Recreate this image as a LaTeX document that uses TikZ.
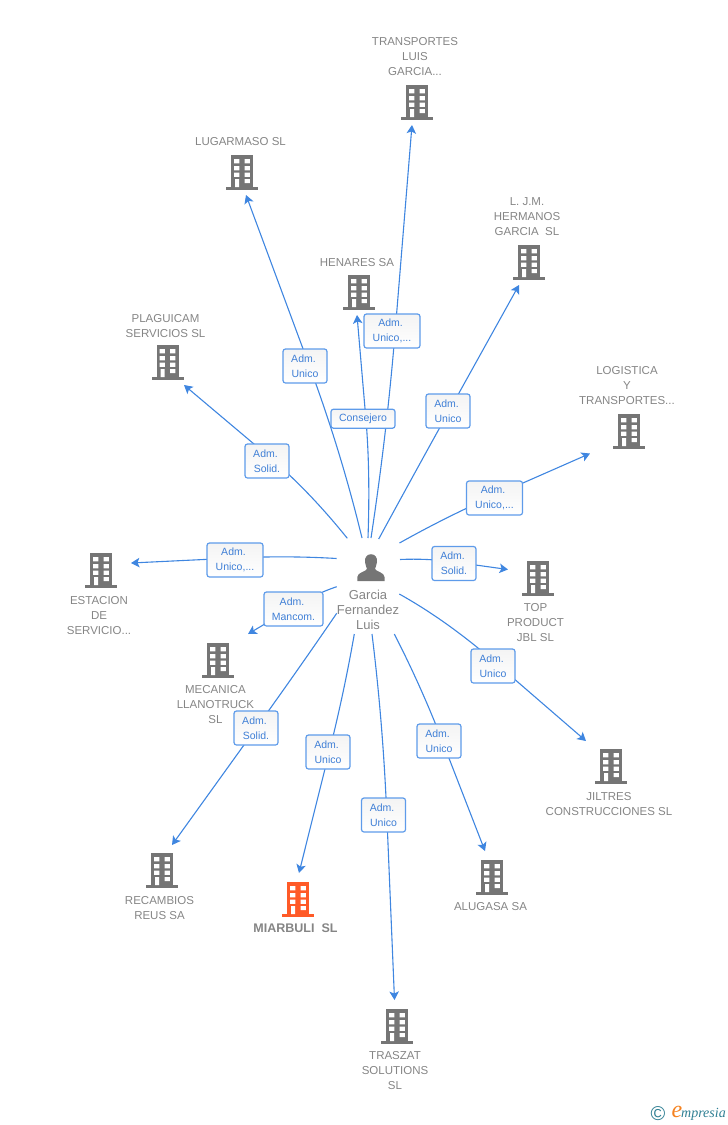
\documentclass[tikz,border=0pt]{standalone}
\usepackage{fontspec}
\setmainfont{Liberation Sans}
\newfontfamily\logofont{Liberation Serif}
\usetikzlibrary{arrows.meta,backgrounds,calc}
\definecolor{linkblue}{HTML}{3F86E0}
\definecolor{boxedge}{HTML}{5E9BEA}
\definecolor{boxtext}{HTML}{3F7FD6}
\definecolor{icongray}{HTML}{757575}
\definecolor{labelgray}{HTML}{858585}
\definecolor{hiorange}{HTML}{FF5A27}
\definecolor{logoteal}{HTML}{2F7F93}
\definecolor{logoorange}{HTML}{F58220}
\tikzset{
  conn/.style={linkblue,line width=1.1pt,-{Stealth[length=8.5pt,width=9.5pt,inset=2pt]}},
  rolebox/.style={draw=boxedge,line width=1.2pt,rounded corners=2.5pt,top color=gray!9,bottom color=white,
    text=boxtext,align=center,inner sep=0pt,font=\fontsize{10.5}{15}\selectfont},
  entlabel/.style={text=labelgray,align=center,inner sep=0pt,font=\fontsize{11.5}{15}\selectfont},
  buildingicon/.pic={
    \fill[pic actions] (-11,-17) rectangle (11,15.5);
    \fill[pic actions] (-16,15) rectangle (16,17.6);
    \fill[white] (-7.8,-12.8) rectangle (-2.6,-8.6) (2.7,-12.8) rectangle (7.8,-8.6)
      (-7.8,-6) rectangle (-2.6,-1.7) (2.7,-6) rectangle (7.8,-1.7)
      (-7.8,0.6) rectangle (-2.6,4.8) (2.7,0.6) rectangle (7.8,4.8)
      (-7,7) rectangle (-3,15) (2.7,7) rectangle (7.8,11);
  }
}
\newcommand{\linkpath}[4]{%
  \coordinate (s#1) at (#2);
  \coordinate (m#1) at (#3);
  \coordinate (e#1) at (#4);
  \coordinate (c#1) at ($(m#1)!-0.5!(e#1)$);
  \begin{scope}[on background layer]
    \draw[conn] (s#1) .. controls ($(s#1)!0.667!(c#1)$) and ($(m#1)!0.667!(c#1)$) .. (m#1) -- (e#1);
  \end{scope}%
}
\begin{document}
\begin{tikzpicture}[x=1pt,y=-1pt]
\useasboundingbox (0,0) rectangle (728,1125);

% person
\coordinate (person) at (371,567);
\fill[icongray] (371,554.2) .. controls (375.5,554.2) and (377.5,558) .. (377,562)
  .. controls (376.7,565) and (375.5,567) .. (375,569)
  .. controls (376,571.5) and (384.5,572.5) .. (384.5,577) -- (384.5,581.2) -- (357.3,581.2) -- (357.3,577)
  .. controls (357.3,572.5) and (366,571.5) .. (367,569)
  .. controls (366.5,567) and (365.3,565) .. (365,562)
  .. controls (364.5,558) and (366.5,554.2) .. (371,554.2) -- cycle;
\node[text=labelgray,align=center,inner sep=0pt,font=\fontsize{13}{15}\selectfont] (personlabel) at (368,610) {Garcia\\Fernandez\\Luis};

% buildings
\foreach \n/\px/\py in {b1/417/102,b2/242/172,b3/359/292,b4/529/262,b5/167.5/362,b6/629/431,b7/538/578,b8/611/766,b9/492/877,b10/397/1026,b12/162/870,b13/218/660,b14/101/570}{
  \coordinate (\n) at (\px,\py);
  \pic[fill=icongray] at (\n) {buildingicon};
}
\coordinate (b11) at (298,899);
\pic[fill=hiorange] at (b11) {buildingicon};

% entity labels
\node[entlabel] (t1) at (415,57) {TRANSPORTES\\LUIS\\GARCIA...};
\node[entlabel] (t2) at (240.5,142) {LUGARMASO SL};
\node[entlabel] (t3) at (357,263) {HENARES SA};
\node[entlabel] (t4) at (527,217) {L. J.M.\\HERMANOS\\GARCIA\ \ SL};
\node[entlabel] (t5) at (165.5,326) {PLAGUICAM\\SERVICIOS SL};
\node[entlabel] (t6) at (627,386) {LOGISTICA\\Y\\TRANSPORTES...};
\node[entlabel] (t7) at (535.5,623) {TOP\\PRODUCT\\JBL SL};
\node[entlabel] (t8) at (609,804) {JILTRES\\CONSTRUCCIONES SL};
\node[entlabel] (t9) at (490.5,907) {ALUGASA SA};
\node[entlabel] (t10) at (395,1071) {TRASZAT\\SOLUTIONS\\SL};
\node[entlabel,font=\fontsize{12.5}{15}\selectfont\bfseries] (t11) at (295.5,928.5) {MIARBULI\ \ SL};
\node[entlabel] (t12) at (159.5,908.5) {RECAMBIOS\\REUS SA};
\node[entlabel] (t13) at (215.5,705) {MECANICA\\LLANOTRUCK\\SL};
\node[entlabel] (t14) at (99,616) {ESTACION\\DE\\SERVICIO...};

% role boxes
\node[rolebox,minimum width=56pt,minimum height=34pt] (r1) at (392,331) {Adm.\kern3pt\\Unico,...};
\node[rolebox,minimum width=44pt,minimum height=34pt] (r2) at (305,366) {Adm.\kern3pt\\Unico};
\node[rolebox,minimum width=64pt,minimum height=19pt] (r3) at (363,418.7) {Consejero};
\node[rolebox,minimum width=44pt,minimum height=34pt] (r4) at (448,411) {Adm.\kern3pt\\Unico};
\node[rolebox,minimum width=56pt,minimum height=34pt] (r6) at (494.5,498) {Adm.\kern3pt\\Unico,...};
\node[rolebox,minimum width=44pt,minimum height=34pt] (r7) at (454,563.5) {Adm.\kern3pt\\Solid.};
\node[rolebox,minimum width=44pt,minimum height=34pt] (r8) at (493,666) {Adm.\kern3pt\\Unico};
\node[rolebox,minimum width=44pt,minimum height=34pt] (r9) at (439,741) {Adm.\kern3pt\\Unico};
\node[rolebox,minimum width=44pt,minimum height=34pt] (r10) at (383.5,815) {Adm.\kern3pt\\Unico};
\node[rolebox,minimum width=44pt,minimum height=34pt] (r11) at (328,752) {Adm.\kern3pt\\Unico};
\node[rolebox,minimum width=44pt,minimum height=34pt] (r12) at (256,728) {Adm.\kern3pt\\Solid.};
\node[rolebox,minimum width=59pt,minimum height=34pt] (r13) at (293.5,609) {Adm.\kern3pt\\Mancom.};
\node[rolebox,minimum width=56pt,minimum height=34pt] (r14) at (235,560) {Adm.\kern3pt\\Unico,...};
\node[rolebox,minimum width=44pt,minimum height=34pt] (r5) at (267,461) {Adm.\kern3pt\\Solid.};

% connectors
\linkpath{1}{371,538}{395.2,331}{412,125}
\linkpath{2}{362,538}{309.4,366}{246,195}
\linkpath{3}{368,538}{365.9,419}{357,315}
\linkpath{4}{378.7,539}{449,411}{519,285}
\linkpath{5}{347.3,538.3}{267,455}{184,385}
\linkpath{6}{399.5,543}{494.5,495.5}{590,453.5}
\linkpath{7}{400,559.5}{454,562}{508,569.5}
\linkpath{8}{399.3,594}{493,660.6}{586,741}
\linkpath{9}{394.3,634}{442.3,741}{485,851}
\linkpath{10}{372,634}{386.8,815}{394.5,1000}
\linkpath{11}{354.3,634}{329.2,752}{299,873}
\linkpath{12}{336.7,613.3}{256.2,728}{172,845}
\linkpath{13}{336.7,586.7}{293.5,607}{248,634}
\linkpath{14}{336.7,558.5}{235,558}{131,563}

% logo
\node[text=logoteal,inner sep=0pt,font=\fontsize{20}{20}\selectfont] (logoc) at (658,1114) {\textcopyright};
\node[text=logoorange,inner sep=0pt,font=\fontsize{24}{24}\logofont\itshape] (logoe) at (677,1112) {e};
\node[text=logoteal,inner sep=0pt,anchor=west,font=\fontsize{14}{14}\logofont\itshape] (logot) at (681,1114) {mpresia};
\end{tikzpicture}
\end{document}
